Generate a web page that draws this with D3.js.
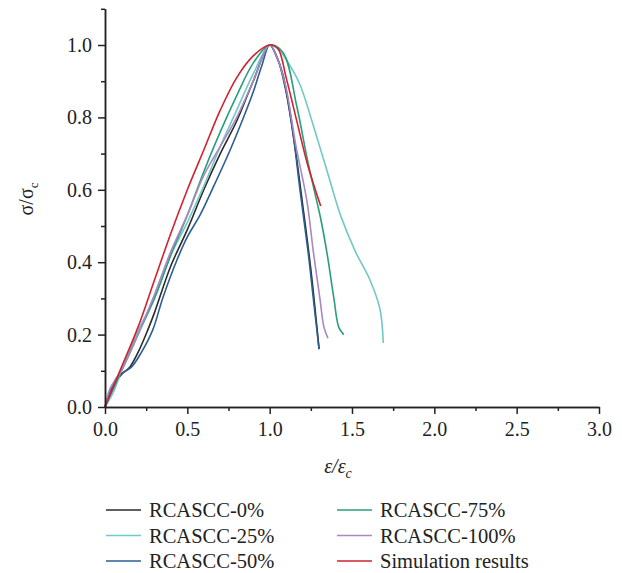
<!DOCTYPE html>
<html>
<head>
<meta charset="utf-8">
<script src="https://cdn.jsdelivr.net/npm/d3@7"></script>
<style>
body { margin: 0; background: #fff; }
text { font-family: "Liberation Serif", "DejaVu Serif", serif; fill: #222; }
</style>
</head>
<body>
<div></div>
<script>
// series names and colours
var seriesNames = ["RCASCC-0%", "RCASCC-25%", "RCASCC-50%", "RCASCC-75%", "RCASCC-100%", "Simulation results"];
var seriesColors = ["#2b2b2b", "#72c8c8", "#2b5e93", "#2a9e7c", "#a888c0", "#d1222f"];

// [strain ratio, stress ratio]
var rc0 = [[0,0],[0.05,0.06],[0.1,0.09],[0.15,0.11],[0.2,0.15],[0.26,0.213],[0.3,0.26],[0.4,0.39],[0.5,0.49],[0.6,0.6],[0.7,0.7],[0.8,0.79],[0.9,0.9],[1.0,1.0],[1.05,0.96],[1.1,0.87],[1.15,0.73],[1.2,0.56],[1.25,0.38],[1.3,0.16]];
var rc25 = [[0,0],[0.05,0.04],[0.1,0.1],[0.2,0.21],[0.3,0.3],[0.4,0.42],[0.5,0.51],[0.6,0.61],[0.7,0.72],[0.8,0.82],[0.9,0.92],[1.0,1.0],[1.05,0.99],[1.1,0.96],[1.18,0.895],[1.25,0.8],[1.29,0.74],[1.35,0.65],[1.43,0.53],[1.52,0.43],[1.61,0.35],[1.67,0.27],[1.69,0.177]];
var rc50 = [[0,0],[0.03,0.04],[0.07,0.08],[0.11,0.095],[0.16,0.11],[0.22,0.15],[0.29,0.213],[0.35,0.3],[0.437,0.406],[0.5,0.47],[0.577,0.53],[0.65,0.6],[0.76,0.71],[0.85,0.81],[0.9,0.87],[0.95,0.94],[1.0,1.0],[1.04,0.97],[1.08,0.92],[1.135,0.78],[1.184,0.6],[1.233,0.43],[1.265,0.3],[1.3,0.16]];
var rc75 = [[0,0],[0.05,0.05],[0.1,0.1],[0.2,0.2],[0.3,0.3],[0.4,0.42],[0.5,0.53],[0.6,0.65],[0.7,0.76],[0.8,0.86],[0.9,0.95],[1.0,1.0],[1.08,0.98],[1.165,0.83],[1.226,0.69],[1.275,0.59],[1.31,0.52],[1.35,0.42],[1.39,0.3],[1.42,0.22],[1.45,0.2]];
var rc100 = [[0,0],[0.03,0.05],[0.07,0.08],[0.1,0.1],[0.2,0.2],[0.3,0.31],[0.4,0.43],[0.5,0.53],[0.6,0.64],[0.7,0.72],[0.8,0.8],[0.9,0.9],[1.0,1.0],[1.05,0.96],[1.1,0.88],[1.16,0.72],[1.226,0.57],[1.265,0.43],[1.305,0.3],[1.33,0.22],[1.354,0.19]];
var sim = [[0,0],[0.1,0.11],[0.2,0.22],[0.3,0.35],[0.4,0.48],[0.5,0.6],[0.6,0.71],[0.7,0.82],[0.8,0.91],[0.9,0.97],[1.0,1.0],[1.05,0.99],[1.1,0.91],[1.17,0.78],[1.23,0.67],[1.31,0.555]];

var xMajor = [0, 0.5, 1.0, 1.5, 2.0, 2.5, 3.0];
var xMinor = [0.25, 0.75, 1.25, 1.75, 2.25, 2.75];
var yMajor = [0, 0.2, 0.4, 0.6, 0.8, 1.0];
var yMinor = [0.1, 0.3, 0.5, 0.7, 0.9, 1.1];

function init() {
var w = 622;
var h = 573;
var allData = [rc0, rc25, rc50, rc75, rc100, sim];

var svg = d3.select("div")
            .append("svg")
            .attr("width", w)
            .attr("height", h);

var x = d3.scaleLinear().domain([0, 3]).range([105, 599]);
var y = d3.scaleLinear().domain([0, 1.1]).range([407, 8.8]);

var line = d3.line()
    .x(function(d) { return x(d[0]); })
    .y(function(d) { return y(d[1]); })
    .curve(d3.curveCatmullRom.alpha(0.5));

svg.selectAll("path.curve")
    .data(allData)
    .enter()
    .append("path")
    .attr("class", "curve")
    .attr("d", line)
    .attr("fill", "none")
    .attr("stroke", function(d, i) { return seriesColors[i]; })
    .attr("stroke-width", 1.6);

// axes
var xAxis = svg.append("g").attr("transform", "translate(0,407)")
    .call(d3.axisBottom(x).tickValues(xMajor).tickSize(7).tickSizeOuter(0).tickFormat(d3.format(".1f")));
svg.append("g").attr("transform", "translate(0,407)")
    .call(d3.axisBottom(x).tickValues(xMinor).tickSize(4).tickSizeOuter(0).tickFormat(""));
var yAxis = svg.append("g").attr("transform", "translate(105,0)")
    .call(d3.axisLeft(y).tickValues(yMajor).tickSize(7).tickSizeOuter(0).tickFormat(d3.format(".1f")));
svg.append("g").attr("transform", "translate(105,0)")
    .call(d3.axisLeft(y).tickValues(yMinor).tickSize(4).tickSizeOuter(0).tickFormat(""));

svg.selectAll(".domain, .tick line")
    .attr("stroke", "#222")
    .attr("stroke-width", 1.5);
svg.selectAll(".tick text")
    .style("font-family", "'Liberation Serif', serif")
    .style("font-size", "20px")
    .attr("fill", "#222");
xAxis.selectAll(".tick text").attr("dy", "0.95em");
yAxis.selectAll(".tick text").attr("x", -13);

// axis titles
var yt = svg.append("text")
    .attr("transform", "translate(33,199) rotate(-90)")
    .attr("text-anchor", "middle")
    .style("font-size", "20px");
yt.append("tspan").text("σ/σ");
yt.append("tspan").attr("dy", 5).style("font-size", "13px").text("c");

var xt = svg.append("text")
    .attr("x", 338)
    .attr("y", 473)
    .attr("text-anchor", "middle")
    .style("font-size", "20px")
    .style("font-style", "italic");
xt.append("tspan").text("ε/ε");
xt.append("tspan").attr("dy", 5).style("font-size", "14px").text("c");

// legend
var leg = svg.selectAll("g.leg")
    .data(seriesNames)
    .enter()
    .append("g")
    .attr("class", "leg")
    .attr("transform", function(d, i) {
        var col = i < 3 ? 0 : 1;
        return "translate(" + (106 + col * 231) + "," + (510 + (i % 3) * 25.5) + ")";
    });
leg.append("line")
    .attr("x1", 0).attr("x2", 35)
    .attr("stroke", function(d, i) { return seriesColors[i]; })
    .attr("stroke-width", 1.6);
leg.append("text")
    .attr("x", 43)
    .attr("y", 7)
    .style("font-size", "20.5px")
    .text(function(d) { return d; });
}

window.onload = init;
</script>
</body>
</html>
